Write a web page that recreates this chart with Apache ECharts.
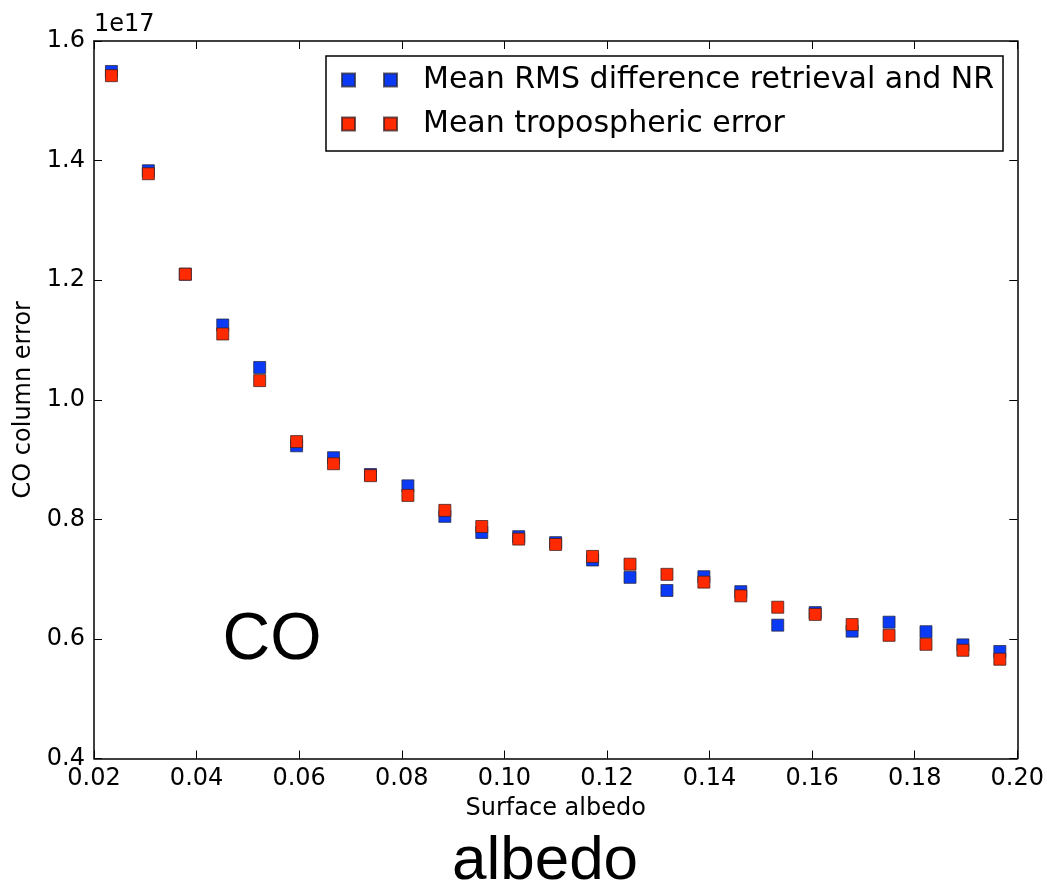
<!DOCTYPE html>
<html>
<head>
<meta charset="utf-8">
<script src="https://cdn.jsdelivr.net/npm/echarts@6/dist/echarts.min.js"></script>
<style>
html,body{margin:0;padding:0;background:#fff;}
#chart{width:1047px;height:887px;}
</style>
</head>
<body>
<div id="chart"></div>
<script>
// Surface albedo values (x)
const albedo = [0.0234, 0.0306, 0.0378, 0.0451, 0.0523, 0.0595, 0.0667, 0.0739, 0.0812, 0.0884,
  0.0956, 0.1028, 0.1100, 0.1172, 0.1245, 0.1317, 0.1389, 0.1461, 0.1533, 0.1606,
  0.1678, 0.1750, 0.1822, 0.1894, 0.1966];
// CO column error, in units of 1e17
const rmsDiff = [1.549, 1.383, 1.210, 1.125, 1.054, 0.923, 0.903, 0.875, 0.856, 0.805,
  0.778, 0.771, 0.761, 0.732, 0.703, 0.681, 0.704, 0.679, 0.623, 0.644,
  0.613, 0.628, 0.612, 0.590, 0.579];
const tropErr = [1.542, 1.378, 1.210, 1.110, 1.032, 0.930, 0.893, 0.873, 0.840, 0.815,
  0.788, 0.767, 0.758, 0.738, 0.725, 0.708, 0.695, 0.672, 0.653, 0.641,
  0.624, 0.606, 0.591, 0.581, 0.566];
const seriesNames = ['Mean RMS difference retrieval and NR', 'Mean tropospheric error'];
const scaleLabel = '1e17';
const xTitle = 'Surface albedo';
const yTitle = 'CO column error';
const overlayCO = 'CO';
const overlayAlbedo = 'albedo';

const F = 'DejaVu Sans';
const chart = echarts.init(document.getElementById('chart'), null, {renderer:'canvas'});
const pairs = (xs, ys) => xs.map((x, i) => [x, ys[i]]);
const legendIcon = 'path://M0,0h13v13h-13zM42,0h13v13h-13z';

const axisCommon = {
  axisLine: {show: true, onZero: false, lineStyle: {color: '#000', width: 1.5}},
  axisTick: {show: true, inside: true, length: 8, lineStyle: {color: '#000', width: 1}},
  splitLine: {show: false}
};

chart.setOption({
  animation: false,
  backgroundColor: '#fff',
  grid: {left: 94, right: 28, top: 41, bottom: 128.5, containLabel: false},
  legend: {
    left: 326, top: 56,
    orient: 'vertical',
    data: seriesNames.map(n => ({name: n, icon: legendIcon})),
    itemWidth: 55, itemHeight: 13,
    itemGap: 14,
    padding: [9, 9, 12, 15],
    borderColor: '#000', borderWidth: 1.5, borderRadius: 0,
    backgroundColor: '#fff',
    textStyle: {fontFamily: F, fontSize: 30, color: '#000', lineHeight: 30, padding: [0, 0, 0, 21]}
  },
  xAxis: [
    Object.assign({}, axisCommon, {
      type: 'value', position: 'bottom', min: 0.02, max: 0.20, interval: 0.02,
      name: xTitle, nameLocation: 'middle', nameGap: 38,
      nameTextStyle: {fontFamily: F, fontSize: 24, color: '#000'},
      axisLabel: {fontFamily: F, fontSize: 24, color: '#000', margin: 8,
        formatter: v => v.toFixed(2)}
    }),
    Object.assign({}, axisCommon, {
      type: 'value', position: 'top', min: 0.02, max: 0.20, interval: 0.02,
      axisLabel: {show: false}
    })
  ],
  yAxis: [
    Object.assign({}, axisCommon, {
      type: 'value', position: 'left', min: 0.4, max: 1.6, interval: 0.2,
      name: yTitle, nameLocation: 'middle', nameGap: 52,
      nameTextStyle: {fontFamily: F, fontSize: 24, color: '#000'},
      axisLabel: {fontFamily: F, fontSize: 24, color: '#000', margin: 9,
        formatter: v => v.toFixed(1)}
    }),
    Object.assign({}, axisCommon, {
      type: 'value', position: 'right', min: 0.4, max: 1.6, interval: 0.2,
      axisLabel: {show: false}
    })
  ],
  series: [
    {
      name: seriesNames[0], type: 'scatter', xAxisIndex: 0, yAxisIndex: 0,
      symbol: 'rect', symbolSize: 12,
      itemStyle: {color: '#0a3af5', borderColor: 'rgba(40,40,60,0.75)', borderWidth: 1, opacity: 1},
      data: pairs(albedo, rmsDiff)
    },
    {
      name: seriesNames[1], type: 'scatter', xAxisIndex: 0, yAxisIndex: 0,
      symbol: 'rect', symbolSize: 12,
      itemStyle: {color: '#ff2a00', borderColor: 'rgba(60,30,30,0.75)', borderWidth: 1, opacity: 1},
      data: pairs(albedo, tropErr)
    }
  ],
  graphic: [
    {type: 'text', left: 94, top: 13, style: {text: scaleLabel, font: '24px "DejaVu Sans"', fill: '#000'}},
    {type: 'text', x: 272, y: 641, style: {text: overlayCO, font: '66px "Liberation Sans", Arial', fill: '#000', textAlign: 'center', textVerticalAlign: 'middle'}},
    {type: 'text', x: 545, y: 862, style: {text: overlayAlbedo, font: '62px "Liberation Sans", Arial', fill: '#000', textAlign: 'center', textVerticalAlign: 'middle'}}
  ]
});
</script>
</body>
</html>
